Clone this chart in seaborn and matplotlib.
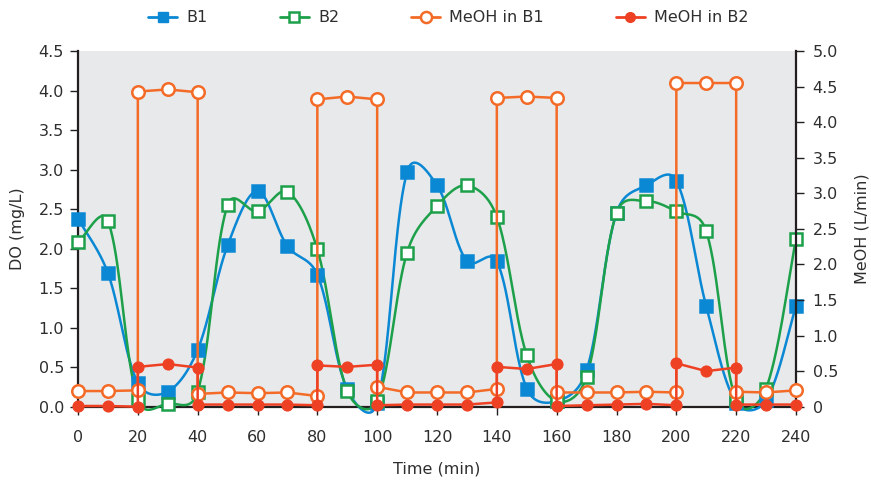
import matplotlib
matplotlib.use("Agg")
import matplotlib.pyplot as plt
import numpy as np
import pandas as pd
import seaborn as sns
from matplotlib.lines import Line2D

# DO readings every 10 min
time = list(range(0, 241, 10))
do_b1 = [2.38, 1.69, 0.30, 0.19, 0.72, 2.04, 2.73, 2.03, 1.67, 0.22,
         0.05, 2.97, 2.80, 1.84, 1.84, 0.23, 0.07, 0.46, 2.45, 2.80,
         2.86, 1.27, 0.05, 0.08, 1.27]
do_b2 = [2.08, 2.35, 0.09, 0.04, 0.19, 2.55, 2.47, 2.72, 1.99, 0.20,
         0.07, 1.95, 2.54, 2.80, 2.40, 0.65, 0.07, 0.38, 2.45, 2.60,
         2.47, 2.22, 0.08, 0.23, 2.12]

# methanol dosing (step changes -> repeated times)
meoh_time = [0, 10, 20, 20, 30, 40, 40, 50, 60, 70, 80, 80, 90, 100, 100,
             110, 120, 130, 140, 140, 150, 160, 160, 170, 180, 190, 200, 200,
             210, 220, 220, 230, 240]
meoh_b1 = [0.22, 0.22, 0.23, 4.43, 4.46, 4.42, 0.18, 0.20, 0.19, 0.20, 0.15,
           4.32, 4.36, 4.32, 0.28, 0.20, 0.20, 0.20, 0.25, 4.34, 4.36, 4.34,
           0.20, 0.20, 0.20, 0.21, 0.20, 4.55, 4.55, 4.55, 0.21, 0.20, 0.23]
meoh_b2 = [0.01, 0.01, 0.00, 0.56, 0.60, 0.55, 0.03, 0.03, 0.03, 0.03, 0.02,
           0.58, 0.56, 0.59, 0.02, 0.03, 0.03, 0.03, 0.06, 0.56, 0.53, 0.60,
           0.01, 0.02, 0.03, 0.04, 0.02, 0.61, 0.50, 0.55, 0.03, 0.03, 0.03]

BLUE = "#0A88D4"
GREEN = "#1DA04A"
ORANGE = "#F36B27"
RED = "#EE4124"
TEXT = "#2E2E2E"

# pixels per data unit, used so the smoothing behaves like a spreadsheet's
XPX, YPX = 718 / 240, 355.7 / 4.5


def smooth(x, y, n=40):
    # smoothed line as cubic Bezier, control arms partly scaled by chord lengths
    p = np.column_stack([np.asarray(x) * XPX, np.asarray(y) * YPX]).astype(float)
    p = np.vstack([p[0], p, p[-1]])
    out = []
    s = np.linspace(0, 1, n)[:, None]
    for i in range(1, len(p) - 2):
        p0, p1, p2, p3 = p[i - 1], p[i], p[i + 1], p[i + 2]
        d01 = np.hypot(*(p1 - p0))
        d12 = np.hypot(*(p2 - p1))
        d23 = np.hypot(*(p3 - p2))
        a = d12 / (d01 + d12) if d01 + d12 > 0 else 0
        b = d12 / (d12 + d23) if d12 + d23 > 0 else 0
        a = 0.5 * a + 0.25
        b = 0.5 * b + 0.25
        c1 = p1 + (p2 - p0) * a / 3
        c2 = p2 - (p3 - p1) * b / 3
        seg = ((1 - s) ** 3) * p1 + 3 * ((1 - s) ** 2) * s * c1 + 3 * (1 - s) * s ** 2 * c2 + s ** 3 * p2
        out.append(seg if i == 1 else seg[1:])
    out = np.vstack(out)
    return out[:, 0] / XPX, out[:, 1] / YPX


sns.set_style("white")
plt.rcParams["font.family"] = ["DejaVu Sans"]
plt.rcParams["font.size"] = 11.5

fig = plt.figure(figsize=(8.71, 4.83), dpi=100)
ax = fig.add_axes([78 / 871, (483 - 406.7) / 483, (796 - 78) / 871, (406.7 - 51) / 483])
ax.set_facecolor("#E8E9EB")
ax2 = ax.twinx()

for y, c, mfc in [(do_b1, BLUE, BLUE), (do_b2, GREEN, "white")]:
    sx, sy = smooth(time, y)
    sns.lineplot(x=sx, y=sy, ax=ax, color=c, lw=1.8, sort=False,
                 estimator=None, clip_on=False, zorder=3)
    sns.lineplot(x=time, y=y, ax=ax, color=c, lw=0, marker="s", ms=8,
                 mfc=mfc, mec=c, mew=1.8, sort=False, estimator=None,
                 clip_on=False, zorder=4)

sns.lineplot(x=meoh_time, y=meoh_b1, ax=ax2, color=ORANGE, lw=1.8, marker="o",
             ms=9, mfc="white", mec=ORANGE, mew=1.8, sort=False,
             estimator=None, clip_on=False, zorder=5)
sns.lineplot(x=meoh_time, y=meoh_b2, ax=ax2, color=RED, lw=1.8, marker="o",
             ms=8, mfc=RED, mec=RED, sort=False, estimator=None,
             clip_on=False, zorder=5)

ax.set_xlim(0, 240)
ax.set_ylim(0, 4.5)
ax2.set_ylim(0, 5.0)
ax.set_xticks(range(0, 241, 20))
ax.set_yticks(np.arange(0, 4.51, 0.5))
ax.set_yticklabels([f"{v:.1f}" for v in np.arange(0, 4.51, 0.5)])
ax2.set_yticks(np.arange(0, 5.01, 0.5))
ax2.set_yticklabels(["0"] + [f"{v:.1f}" for v in np.arange(0.5, 5.01, 0.5)])

for a in (ax, ax2):
    a.spines["top"].set_visible(False)
    for s in ("left", "right", "bottom"):
        a.spines[s].set_color("#231F20")
        a.spines[s].set_linewidth(1.6)
    a.tick_params(direction="out", length=6, width=1, color="#231F20",
                  labelcolor=TEXT, labelsize=11.5)
ax.tick_params(axis="x", pad=11)
ax.spines["right"].set_visible(False)
ax2.spines["left"].set_visible(False)
ax2.spines["bottom"].set_visible(False)
ax2.tick_params(axis="y", left=False, right=True, pad=6)
ax.tick_params(axis="y", left=True, pad=4)
ax.tick_params(axis="x", bottom=True)

ax.set_xlabel("Time (min)", color=TEXT, labelpad=12)
ax.set_ylabel("DO (mg/L)", color=TEXT, labelpad=10)
ax2.set_ylabel("MeOH (L/min)", color=TEXT, labelpad=12)

handles = [
    Line2D([], [], color=BLUE, lw=2, marker="s", ms=7, mfc=BLUE, mec=BLUE),
    Line2D([], [], color=GREEN, lw=2, marker="s", ms=7, mfc="white", mec=GREEN, mew=1.8),
    Line2D([], [], color=ORANGE, lw=2, marker="o", ms=8, mfc="white", mec=ORANGE, mew=1.8),
    Line2D([], [], color=RED, lw=2, marker="o", ms=7, mfc=RED, mec=RED),
]
fig.legend(handles, ["B1", "B2", "MeOH in B1", "MeOH in B2"], loc="center",
           bbox_to_anchor=(0.515, 0.963), ncol=4, frameon=False,
           handlelength=1.8, columnspacing=4.5, handletextpad=0.6,
           labelcolor=TEXT, fontsize=11.5)

fig.savefig("out.png", dpi=100)
